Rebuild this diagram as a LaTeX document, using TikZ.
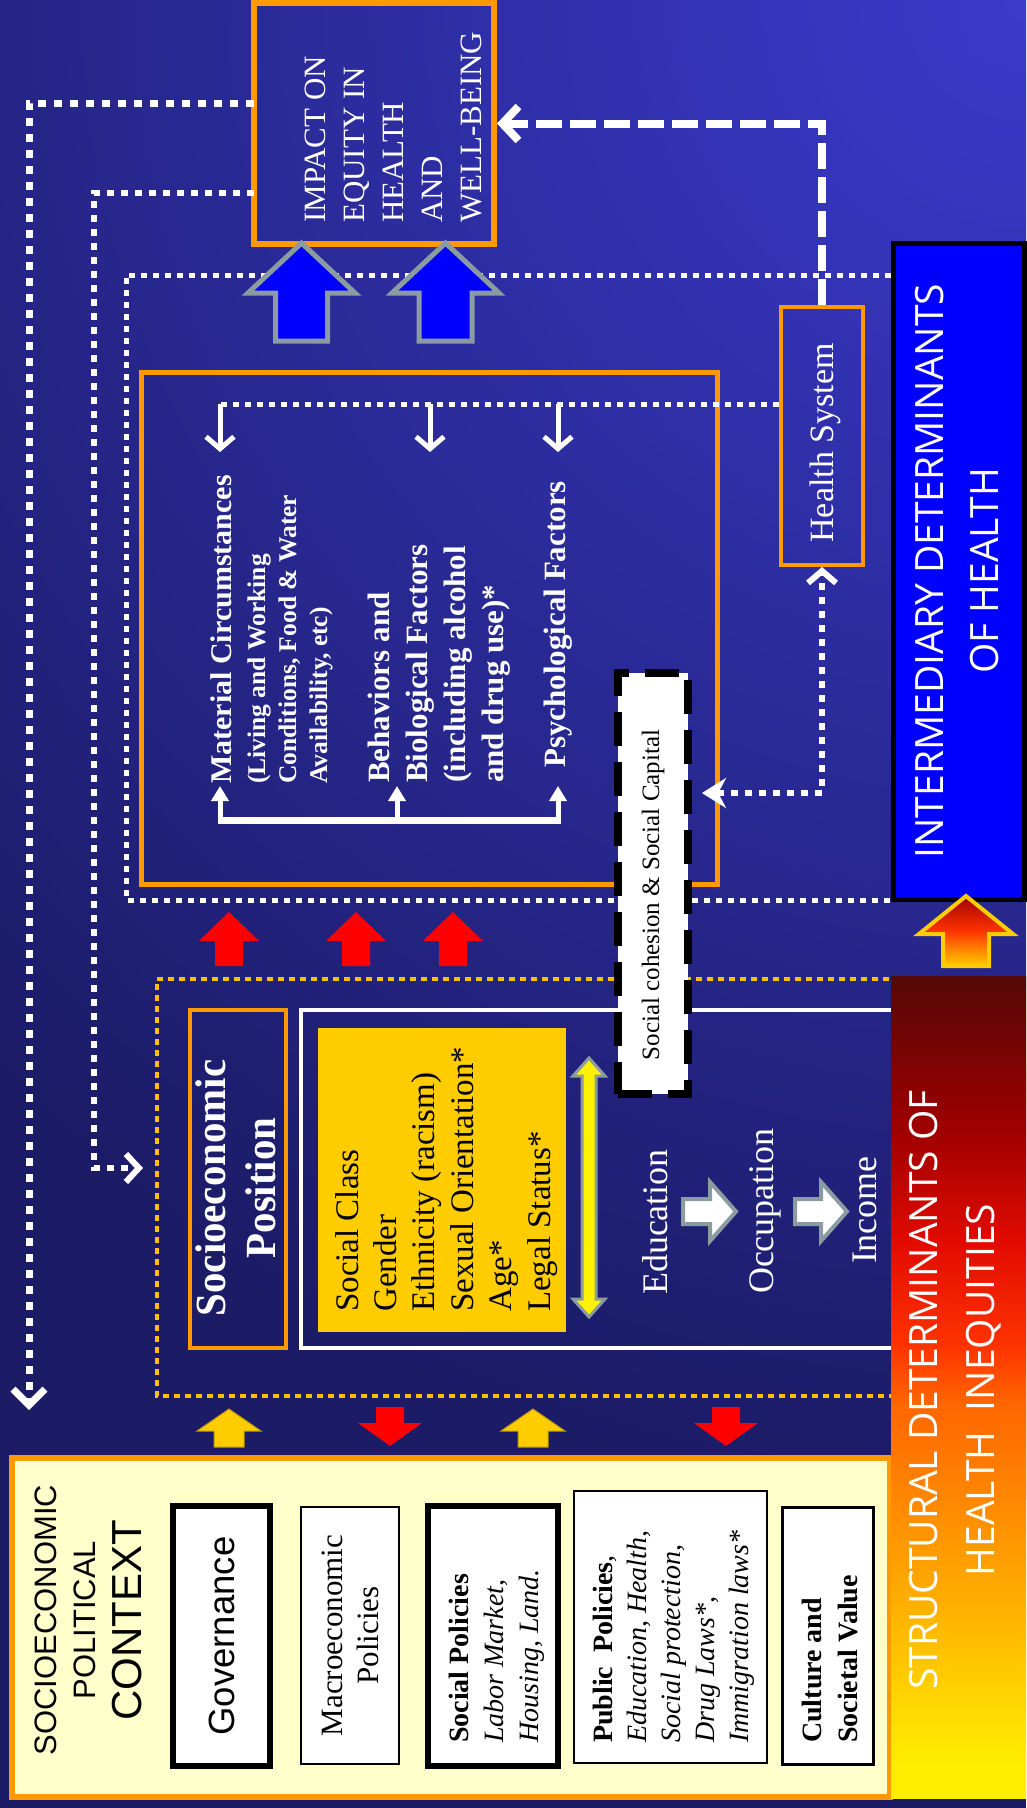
\documentclass[tikz,border=0pt]{standalone}
\usepackage{fontspec}
\setmainfont{Liberation Serif}
\setsansfont{Liberation Sans}
\newfontfamily\headfont{Open Sans}
\usetikzlibrary{arrows.meta}
\definecolor{bgdark}{HTML}{1B1B66}
\definecolor{bgbright}{HTML}{3A3ACC}
\definecolor{orng}{HTML}{FF9900}
\definecolor{gold}{HTML}{FFCC00}
\definecolor{goldline}{HTML}{FFC000}
\definecolor{ctxfill}{HTML}{FFFFCC}
\definecolor{arrgray}{HTML}{8A9CA0}
\definecolor{intblue}{HTML}{0000FF}
\definecolor{sY}{HTML}{FFEE00}
\definecolor{sY2}{HTML}{FFBB00}
\definecolor{sO}{HTML}{FF8800}
\definecolor{sO2}{HTML}{FF6600}
\definecolor{sR}{HTML}{FF3300}
\definecolor{sR2}{HTML}{E00A00}
\definecolor{sR3}{HTML}{A00000}
\definecolor{sM}{HTML}{550808}
\pgfdeclareverticalshading{structshade}{100bp}{color(0bp)=(sY); color(27bp)=(sY); color(35bp)=(sY2); color(43bp)=(sO); color(49bp)=(sO2); color(52.5bp)=(sR); color(59bp)=(sR2); color(65.5bp)=(sR3); color(75bp)=(sM); color(100bp)=(sM)}
\newcommand\fsz[2]{\fontsize{#1}{#2}\selectfont}
% vertical block arrow: style, cx, tipY, headY, tailY, headhalf, shafthalf
\newcommand\vArrow[7]{\path[#1] (#2,#3) -- (#2+#6,#4) -- (#2+#7,#4) -- (#2+#7,#5) -- (#2-#7,#5) -- (#2-#7,#4) -- (#2-#6,#4) -- cycle;}
% horizontal block arrow: style, cy, tipX, headX, tailX, headhalf, shafthalf
\newcommand\hArrow[7]{\path[#1] (#3,#2) -- (#4,#2+#6) -- (#4,#2+#7) -- (#5,#2+#7) -- (#5,#2-#7) -- (#4,#2-#7) -- (#4,#2-#6) -- cycle;}
\begin{document}
\begin{tikzpicture}[x=1pt,y=-1pt,
  vtext/.style={rotate=90,inner sep=0pt,text=white},
  btext/.style={rotate=90,inner sep=0pt,text=black},
  wdotA/.style={draw=white,line width=7pt,dash pattern=on 8pt off 8pt},
  wdotB/.style={draw=white,line width=6pt,dash pattern=on 7pt off 7pt},
  wdotC/.style={draw=white,line width=5pt,dash pattern=on 6pt off 6pt},
  wdash/.style={draw=white,line width=8pt,dash pattern=on 26pt off 8pt},
  ctxbox/.style={fill=white,draw=black,inner sep=0pt},
  plainbox/.style={inner sep=0pt},
]
\useasboundingbox (0,0) rectangle (1026,1808);
\fill[bgdark] (0,0) rectangle (1026,1808);
\begin{scope}
\clip (0,0) rectangle (1026,1808);
\shade[inner color=bgbright, outer color=bgdark] (1026,0) circle (1500pt);
\end{scope}

% ---------- boxes ----------
\node[plainbox,draw=orng,line width=6pt,minimum width=240pt,minimum height=241pt] (impact) at (374,123.5) {};
\node[plainbox,draw=orng,line width=5pt,minimum width=576pt,minimum height=512pt] (mainbox) at (429,628) {};
\node[plainbox,draw=orng,line width=4pt,minimum width=82pt,minimum height=258pt] (health) at (822,436) {};
\node[plainbox,fill=ctxfill,draw=orng,line width=6pt,minimum width=878pt,minimum height=339pt] (context) at (451,1627.5) {};

% socioeconomic region
\coordinate (sdA) at (900,979);
\coordinate (sdB) at (157,979);
\coordinate (sdC) at (157,1396);
\coordinate (sdD) at (900,1396);
\draw[goldline,line width=4pt,dash pattern=on 6pt off 5pt] (sdA) -- (sdB) -- (sdC) -- (sdD);
\node[plainbox,draw=orng,line width=4pt,minimum width=96pt,minimum height=338pt] (sepbox) at (238,1179) {};
\node[plainbox,draw=white,line width=4pt,minimum width=599pt,minimum height=338pt] (frame) at (600.5,1179) {};
\node[plainbox,fill=gold,minimum width=248pt,minimum height=304pt] (goldbox) at (442,1180) {};

% context inner boxes
\node[ctxbox,line width=6pt,minimum width=97pt,minimum height=260pt] (gov) at (221.5,1636) {};
\node[ctxbox,line width=2pt,minimum width=98pt,minimum height=257pt] (macro) at (350,1635.5) {};
\node[ctxbox,line width=6pt,minimum width=130pt,minimum height=260pt] (socpol) at (493,1636) {};
\node[ctxbox,line width=2pt,minimum width=193pt,minimum height=272pt] (pubpol) at (670.5,1627) {};
\node[ctxbox,line width=3pt,minimum width=91pt,minimum height=257pt] (culture) at (827.5,1635.5) {};

% ---------- connectors ----------
\coordinate (outA) at (254,103);
\coordinate (outB) at (29,1410);
\draw[wdotA,-{Straight Barb[length=16pt,width=32pt]}] (outA) -| (outB);
\coordinate (midA) at (254,193);
\coordinate (midB) at (94,1168);
\coordinate (midC) at (143,1168);
\draw[wdotB,-{Straight Barb[length=13pt,width=28pt]}] (midA) -| (midB) -- (midC);
\coordinate (fineA) at (891,275);
\coordinate (fineB) at (126,275);
\coordinate (fineC) at (126,900);
\coordinate (fineD) at (891,900);
\draw[wdotC] (fineA) -- (fineB) -- (fineC) -- (fineD);
\draw[wdash,-{Straight Barb[length=16pt,width=34pt]}] (health.north) |- (impact.east);
\coordinate (hsL) at (779,404);
\coordinate (hsE) at (220,404);
\draw[wdotC] (hsL) -- (hsE);
\foreach \x in {220,430,558}
  \draw[white,line width=5pt,-{Straight Barb[length=12pt,width=28pt]}] (\x,404) -- (\x,452);
\coordinate (brL) at (217.5,820);
\coordinate (brR) at (560.5,820);
\draw[white,line width=7pt] (brL) -- (brR);
\foreach \x in {220,397,558}
  \draw[white,line width=5pt,-{Triangle[length=15pt,width=17pt]}] (\x,820) -- (\x,786);
\coordinate (cohR) at (702,793);
\draw[wdotB,{Stealth[length=24pt,width=30pt]}-{Straight Barb[length=12pt,width=28pt]}] (cohR) -| (health.south);

% ---------- block arrows ----------
\vArrow{fill=intblue,draw=arrgray,line width=5pt}{301.5}{243}{293}{341}{53.5}{26}
\vArrow{fill=intblue,draw=arrgray,line width=5pt}{445.5}{243}{293}{341}{53.5}{26.5}
\foreach \x in {229,356,453} {\vArrow{fill=red}{\x}{912}{941}{966}{30}{14}}
\foreach \x in {229,533} {\vArrow{fill=gold,draw=gold!75!black,line width=1pt}{\x}{1409}{1431}{1447}{32}{15}}
\foreach \x in {390,726} {\vArrow{fill=red}{\x}{1446}{1423}{1407}{32}{14}}
\path[fill=yellow,draw=arrgray,line width=3pt] (589,1058) -- (605,1076) -- (596,1076) -- (596,1299) -- (605,1299) -- (589,1317) -- (573,1299) -- (582,1299) -- (582,1076) -- (573,1076) -- cycle;
\hArrow{fill=white,draw=arrgray,line width=4pt}{1211.5}{736}{710}{683}{29.5}{12.5}
\hArrow{fill=white,draw=arrgray,line width=4pt}{1211.5}{847}{821}{795}{29.5}{12.5}

% ---------- cohesion box ----------
\node[plainbox,fill=white,draw=black,line width=8pt,dash pattern=on 34pt off 16pt,minimum width=70pt,minimum height=421pt] (cohesion) at (653,883.5) {};

% ---------- right-hand bars ----------
\node[plainbox,fill=intblue,draw=black,line width=5pt,minimum width=131pt,minimum height=656pt] (inter) at (958.5,571) {};
\node[plainbox,shade,shading=structshade,minimum width=135pt,minimum height=822pt] (struct) at (958.5,1387) {};
\vArrow{shade,top color=sR3,bottom color=gold,middle color=sR,draw=gold,line width=4pt}{966}{896}{934}{966}{47}{23}

% ---------- texts (multi-line nodes: base = last line) ----------
\node[vtext,align=left,anchor=base west,font=\fsz{31}{39}] (impT) at (481,223) {IMPACT ON\\EQUITY IN\\HEALTH\\AND\\WELL-BEING};
\node[vtext,anchor=base west,font=\bfseries\fsz{30}{36}] (matT) at (231,784) {Material Circumstances};
\node[vtext,align=left,anchor=base west,font=\bfseries\fsz{25.5}{31}] (matD) at (327,784) {(Living and Working\\Conditions, Food \& Water\\Availability, etc)};
\node[vtext,align=left,anchor=base west,font=\bfseries\fsz{31}{38}] (behT) at (503,783) {Behaviors and\\Biological Factors\\(including alcohol\\and drug use)*};
\node[vtext,anchor=base west,font=\bfseries\fsz{31}{38}] (psyT) at (565,768) {Psychological Factors};
\node[vtext,font=\fsz{34}{40}] (hsT) at (825,443) {Health System};
\node[btext,font=\fsz{25}{30}] (cohT) at (653,895) {Social cohesion \& Social Capital};
\node[vtext,align=center,anchor=base,font=\bfseries\fsz{43}{50}] (sepT) at (275,1188) {\scalebox{0.95}[1]{Socioeconomic}\\\scalebox{0.95}[1]{Position}};
\node[btext,align=left,anchor=base west,font=\fsz{33}{38.4}] (goldT) at (550,1312) {Social Class\\Gender\\Ethnicity (racism)\\Sexual Orientation*\\Age*\\Legal Status*};
\node[vtext,anchor=base,font=\fsz{36}{40}] (eduT) at (667,1222) {Education};
\node[vtext,anchor=base,font=\fsz{36}{40}] (occT) at (773,1211) {Occupation};
\node[vtext,anchor=base,font=\fsz{36}{40}] (incT) at (876,1210) {Income};

\node[btext,anchor=base,font=\sffamily\fsz{31}{36}] (ctx1) at (56,1620) {SOCIOECONOMIC};
\node[btext,anchor=base,font=\sffamily\fsz{31}{36}] (ctx2) at (95,1620) {POLITICAL};
\node[btext,anchor=base,font=\sffamily\fsz{42}{48}] (ctx3) at (141,1620) {CONTEXT};
\node[btext,font=\sffamily\fsz{36.5}{42}] (govT) at (gov) {Governance};
\node[btext,align=center,font=\fsz{31}{36}] (macT) at (macro) {Macroeconomic\\Policies};
\node[btext,align=left,anchor=base west,font=\fsz{28}{35}] (socT) at (538,1743) {\textbf{Social Policies}\\\textit{Labor Market,}\\\textit{Housing, Land.}};
\node[btext,align=left,anchor=base west,font=\fsz{28}{34}] (pubT) at (748,1743) {\textbf{Public\ \ Policies},\\\textit{Education, Health,}\\\textit{Social protection,}\\\textit{Drug Laws*,}\\\textit{Immigration laws*}};
\node[btext,align=left,anchor=base west,font=\bfseries\fsz{28}{36}] (culT) at (857,1743) {Culture and\\Societal Value};

\node[vtext,align=center,font=\headfont\fsz{39}{55}] (interT) at (957,571) {INTERMEDIARY DETERMINANTS\\OF HEALTH};
\node[vtext,align=center,font=\headfont\fsz{39}{57}] (structT) at (955,1390) {STRUCTURAL DETERMINANTS OF\\HEALTH\ \ INEQUITIES};
\end{tikzpicture}
\end{document}
